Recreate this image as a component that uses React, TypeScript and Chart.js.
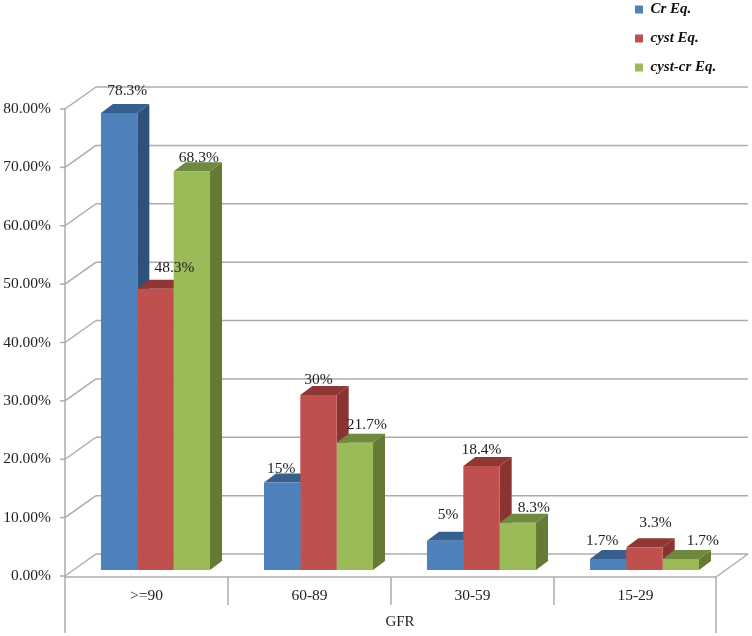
import React, { useEffect, useRef } from "react";
import { Chart, registerables } from "chart.js";

Chart.register(...registerables);

const categories = [">=90", "60-89", "30-59", "15-29"];
const crValues = [78.3, 15, 5, 1.9];
const cystValues = [48.2, 30, 17.8, 3.9];
const cystCrValues = [68.3, 21.8, 8.1, 1.9];
const crLabels = ["78.3%", "15%", "5%", "1.7%"];
const cystLabels = ["48.3%", "30%", "18.4%", "3.3%"];
const cystCrLabels = ["68.3%", "21.7%", "8.3%", "1.7%"];
const yTickStep = 10;
const yMax = 80;

const SERIF = '"Liberation Serif", serif';
const GRID = "#ababab";
const TEXT = "#222222";
const DEPTH_X = 12;
const DEPTH_Y = 9;

const faceColors = [
  { front: "#4f81bd", side: "#2f5078", top: "#37608f" },
  { front: "#c0504d", side: "#8a3432", top: "#8e3735" },
  { front: "#9bbb59", side: "#647a35", top: "#6d8a3e" },
];

// label placement relative to each bar's front-face top centre
const labelNudge = [
  [[8, -22], [-1, -14], [3, -26], [-6, -18]],
  [[19, -21], [0, -15], [0, -16], [11, -24]],
  [[7, -13], [12, -18], [16, -15], [22, -18]],
];

const allLabels = [crLabels, cystLabels, cystCrLabels];

const stagePlugin = {
  id: "stage",
  afterLayout(chart: any) {
    const l = chart.legend;
    if (!l) return;
    const w = l.width;
    const h = l.height;
    l.left = 621;
    l.top = -12;
    l.right = 621 + w;
    l.bottom = -12 + h;
  },
  beforeDatasetsDraw(chart: any) {
    const { ctx, chartArea: a, scales } = chart;
    const y = scales.y;
    const x = scales.x;
    const frontLeft = a.left - 9;
    const backLeft = a.left + 22;
    const backRight = a.right + 22;
    const frontRight = a.right - 10;
    ctx.save();
    ctx.strokeStyle = GRID;
    ctx.lineWidth = 1.5;
    const seg = (x1: number, y1: number, x2: number, y2: number) => {
      ctx.beginPath();
      ctx.moveTo(x1, y1);
      ctx.lineTo(x2, y2);
      ctx.stroke();
    };
    y.ticks.forEach((t: any) => {
      const py = y.getPixelForValue(t.value);
      const fy = py + 6;
      const by = py - 16;
      seg(frontLeft - 5, fy, frontLeft, fy);
      seg(frontLeft, fy, backLeft, by);
      seg(backLeft, by, backRight, by);
    });
    const base = y.getPixelForValue(0);
    const floorFront = base + 7;
    const floorBack = base - 16;
    seg(frontLeft, floorFront, frontRight, floorFront);
    seg(frontRight, floorFront, backRight, floorBack);
    const top = y.getPixelForValue(yMax) + 5;
    seg(frontLeft, top, frontLeft, 633);
    seg(frontRight, floorFront, frontRight, 633);
    const band = x.getPixelForValue(1) - x.getPixelForValue(0);
    categories.slice(1).forEach((_, i) => {
      const px = frontLeft + band * (i + 1);
      seg(px, floorFront, px, 605);
    });
    // depth faces of the bars, painted series by series
    chart.data.datasets.forEach((_: any, di: number) => {
      const meta = chart.getDatasetMeta(di);
      meta.data.forEach((el: any) => {
        const l = el.x - el.width / 2;
        const r = el.x + el.width / 2;
        const t = el.y;
        const b = el.base;
        ctx.fillStyle = faceColors[di].side;
        ctx.beginPath();
        ctx.moveTo(r, t);
        ctx.lineTo(r + DEPTH_X, t - DEPTH_Y);
        ctx.lineTo(r + DEPTH_X, b - DEPTH_Y);
        ctx.lineTo(r, b);
        ctx.closePath();
        ctx.fill();
        ctx.fillStyle = faceColors[di].top;
        ctx.beginPath();
        ctx.moveTo(l, t);
        ctx.lineTo(l + DEPTH_X, t - DEPTH_Y);
        ctx.lineTo(r + DEPTH_X, t - DEPTH_Y);
        ctx.lineTo(r, t);
        ctx.closePath();
        ctx.fill();
      });
    });
    ctx.restore();
  },
  afterDatasetsDraw(chart: any) {
    const { ctx } = chart;
    ctx.save();
    ctx.font = `15.5px ${SERIF}`;
    ctx.fillStyle = TEXT;
    ctx.textAlign = "center";
    ctx.textBaseline = "middle";
    chart.data.datasets.forEach((_: any, di: number) => {
      chart.getDatasetMeta(di).data.forEach((el: any, i: number) => {
        const [dx, dy] = labelNudge[di][i];
        ctx.fillText(allLabels[di][i], el.x + dx, el.y + dy);
      });
    });
    ctx.restore();
  },
};

export default function App() {
  const ref = useRef<HTMLCanvasElement | null>(null);
  useEffect(() => {
    if (!ref.current) return;
    const chart = new Chart(ref.current, {
      type: "bar",
      data: {
        labels: categories,
        datasets: [
          { label: "Cr Eq.", data: crValues, backgroundColor: faceColors[0].front },
          { label: "cyst Eq.", data: cystValues, backgroundColor: faceColors[1].front },
          { label: "cyst-cr Eq.", data: cystCrValues, backgroundColor: faceColors[2].front },
        ],
      },
      options: {
        responsive: false,
        animation: false,
        layout: { padding: { top: 103, right: 26, bottom: 0, left: 0 } },
        datasets: { bar: { categoryPercentage: 0.669, barPercentage: 1 } },
        plugins: {
          tooltip: { enabled: false },
          legend: {
            position: "chartArea",
            align: "start",
            labels: {
              boxWidth: 8,
              boxHeight: 8,
              padding: 14,
              color: "#111111",
              font: { family: SERIF, size: 15, style: "italic", weight: "bold", lineHeight: 1.15 },
            },
          },
        },
        scales: {
          x: {
            grid: { display: false },
            border: { display: false },
            ticks: {
              color: TEXT,
              padding: 9,
              labelOffset: -9,
              maxRotation: 0,
              font: { family: SERIF, size: 15.5 },
            },
            title: {
              display: true,
              text: "GFR",
              color: TEXT,
              font: { family: SERIF, size: 15 },
              padding: { top: 8, bottom: 5 },
            },
            afterFit: (s: any) => {
              s.height = 66;
            },
          },
          y: {
            min: 0,
            max: yMax,
            grid: { display: false },
            border: { display: false },
            ticks: {
              stepSize: yTickStep,
              color: TEXT,
              padding: 15,
              labelOffset: 6,
              font: { family: SERIF, size: 15.5 },
              callback: (v: any) => Number(v).toFixed(2) + "%",
            },
            afterFit: (s: any) => {
              s.width = 74;
            },
          },
        },
      } as any,
      plugins: [stagePlugin as any],
    });
    return () => chart.destroy();
  }, []);
  return (
    <div style={{ position: "fixed", left: 0, top: 0, width: 752, height: 636, background: "#fff" }}>
      <canvas ref={ref} width={752} height={636} style={{ display: "block" }} />
    </div>
  );
}
